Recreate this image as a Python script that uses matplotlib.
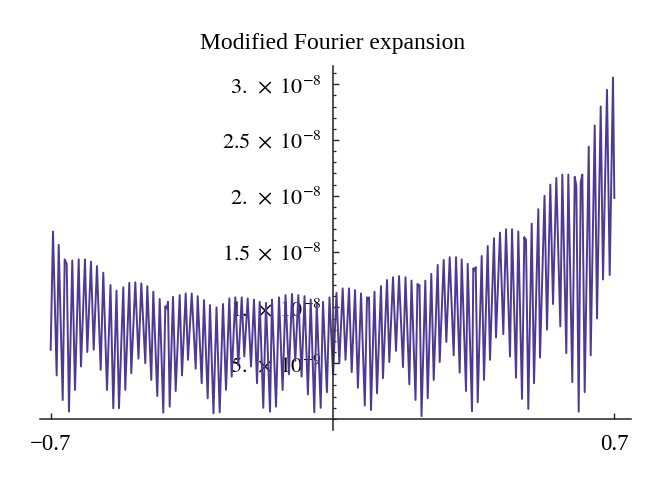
import numpy as np
import matplotlib
matplotlib.use("Agg")
import matplotlib.pyplot as plt
from matplotlib.ticker import FixedLocator, FixedFormatter, MultipleLocator

plt.rcParams['font.family'] = ['Liberation Serif', 'DejaVu Serif']
plt.rcParams['mathtext.fontset'] = 'stix'

# vertices of the plotted curve (y in units of 1e-9)
x = [-0.7000, -0.6942, -0.6851, -0.6801, -0.6701, -0.6652, -0.6602, -0.6545, -0.6463, -0.6396,
     -0.6304, -0.6247, -0.6148, -0.6090, -0.5999, -0.5931, -0.5850, -0.5758, -0.5693, -0.5601,
     -0.5514, -0.5445, -0.5365, -0.5303, -0.5196, -0.5147, -0.5047, -0.4998, -0.4898, -0.4819,
     -0.4749, -0.4650, -0.4600, -0.4501, -0.4451, -0.4352, -0.4292, -0.4203, -0.4153, -0.4118,
     -0.4086, -0.4044, -0.3962, -0.3895, -0.3795, -0.3738, -0.3646, -0.3589, -0.3497, -0.3398,
     -0.3348, -0.3249, -0.3192, -0.3100, -0.3043, -0.2956, -0.2881, -0.2802, -0.2720, -0.2645,
     -0.2563, -0.2504, -0.2414, -0.2340, -0.2255, -0.2191, -0.2106, -0.2024, -0.1950, -0.1875,
     -0.1808, -0.1719, -0.1652, -0.1552, -0.1503, -0.1403, -0.1329, -0.1239, -0.1167, -0.1083,
     -0.1006, -0.0924, -0.0849, -0.0768, -0.0695, -0.0611, -0.0541, -0.0452, -0.0392, -0.0293,
     -0.0236, -0.0139, -0.0075, 0.0015, 0.0099, 0.0169, 0.0253, 0.0323, 0.0410, 0.0477,
     0.0559, 0.0631, 0.0708, 0.0802, 0.0857, 0.0882, 0.0907, 0.0956, 0.1043, 0.1105,
     0.1205, 0.1254, 0.1354, 0.1411, 0.1503, 0.1577, 0.1652, 0.1751, 0.1813, 0.1908,
     0.1962, 0.2062, 0.2111, 0.2136, 0.2161, 0.2211, 0.2305, 0.2365, 0.2454, 0.2514,
     0.2613, 0.2663, 0.2762, 0.2827, 0.2911, 0.3010, 0.3068, 0.3159, 0.3209, 0.3316,
     0.3358, 0.3465, 0.3497, 0.3527, 0.3557, 0.3607, 0.3706, 0.3763, 0.3855, 0.3912,
     0.4011, 0.4061, 0.4160, 0.4242, 0.4310, 0.4409, 0.4459, 0.4558, 0.4615, 0.4707,
     0.4764, 0.4786, 0.4806, 0.4863, 0.4948, 0.5005, 0.5112, 0.5154, 0.5266, 0.5328,
     0.5410, 0.5477, 0.5559, 0.5658, 0.5708, 0.5807, 0.5857, 0.5956, 0.6016, 0.6056,
     0.6115, 0.6165, 0.6205, 0.6264, 0.6364, 0.6413, 0.6513, 0.6570, 0.6662, 0.6719,
     0.6818, 0.6885, 0.6967, 0.7000]
y = [6.2, 16.8, 3.9, 15.6, 1.7, 14.3, 13.9, 0.66, 14.2, 2.6,
     14.3, 4.7, 14.3, 6.0, 14.1, 6.2, 13.7, 4.4, 13.1, 2.6,
     12.0, 0.96, 11.5, 0.96, 11.8, 2.6, 12.2, 4.1, 12.25, 5.4,
     12.15, 5.0, 11.9, 3.5, 11.4, 2.06, 10.75, 0.57, 10.1, 9.9,
     10.5, 1.1, 10.95, 2.5, 11.1, 3.9, 11.25, 5.3, 11.25, 4.5,
     11.0, 3.2, 10.65, 1.85, 10.2, 0.5, 10.0, 0.6, 10.3, 2.6,
     10.8, 3.8, 10.9, 4.8, 10.9, 5.6, 10.8, 4.7, 10.7, 3.2,
     10.5, 1.0, 10.4, 0.66, 10.7, 1.1, 10.9, 2.6, 11.1, 4.0,
     11.2, 5.2, 11.1, 3.8, 11.0, 2.2, 10.7, 0.6, 10.3, 1.0,
     10.5, 2.4, 10.9, 4.0, 11.3, 5.0, 11.7, 5.3, 11.7, 4.2,
     11.55, 2.8, 11.25, 1.2, 10.9, 10.7, 10.9, 0.8, 11.4, 2.3,
     11.9, 3.65, 12.45, 5.1, 12.7, 6.1, 12.8, 4.65, 12.7, 3.1,
     12.4, 1.7, 12.1, 11.9, 12.0, 0.25, 12.4, 1.85, 13.0, 3.5,
     13.8, 5.1, 14.25, 6.9, 14.5, 5.7, 14.5, 4.15, 14.3, 2.5,
     13.9, 0.7, 13.5, 13.3, 13.6, 1.5, 14.6, 3.5, 15.5, 5.3,
     16.2, 7.3, 16.7, 7.6, 17.0, 5.6, 17.0, 3.7, 16.8, 1.8,
     16.3, 16.0, 16.1, 0.9, 17.5, 3.2, 18.8, 5.5, 20.0, 8.0,
     21.0, 10.3, 21.6, 8.3, 21.9, 5.9, 21.9, 3.3, 21.7, 20.9,
     0.65, 21.2, 21.9, 2.4, 24.4, 5.7, 26.3, 9.0, 28.0, 12.5,
     29.5, 12.9, 30.6, 19.8]

y_ticks = [5e-9, 1e-8, 1.5e-8, 2e-8, 2.5e-8, 3e-8]
y_labels = [r'$5.\;\times\;10^{-9}$', r'$1.\;\times\;10^{-8}$', r'$1.5\;\times\;10^{-8}$',
            r'$2.\;\times\;10^{-8}$', r'$2.5\;\times\;10^{-8}$', r'$3.\;\times\;10^{-8}$']
x_ticks = [-0.7, 0.7]
x_labels = ['\u22120.7', '0.7']

fig = plt.figure(figsize=(6.6, 4.78), dpi=100)
ax = fig.add_axes([40/660, 48/478, 591/660, 364/478])

ax.plot(x, np.array(y) * 1e-9, color='#4b3b94', lw=1.4)

ax.set_xlim(-0.7265, 0.7414)
ax.set_ylim(-0.99e-9, 31.63e-9)

ax.spines['left'].set_position(('data', 0))
ax.spines['bottom'].set_position(('data', 0))
ax.spines['top'].set_visible(False)
ax.spines['right'].set_visible(False)
for s in ['left', 'bottom']:
    ax.spines[s].set_linewidth(1.1)
    ax.spines[s].set_color('#222222')

ax.yaxis.set_major_locator(FixedLocator(y_ticks))
ax.yaxis.set_major_formatter(FixedFormatter(y_labels))
ax.yaxis.set_minor_locator(MultipleLocator(1e-9))
ax.xaxis.set_major_locator(FixedLocator(x_ticks))
ax.xaxis.set_major_formatter(FixedFormatter(x_labels))

ax.tick_params(axis='y', which='major', direction='in', length=4, width=1, labelsize=16, pad=8, color='#222222')
ax.tick_params(axis='y', which='minor', direction='in', length=2.2, width=0.9, color='#222222')
ax.tick_params(axis='x', which='major', direction='in', length=4, width=1, labelsize=16.5, pad=10.5, color='#222222')

fig.text(333/660, 1 - 44/478, 'Modified Fourier expansion', ha='center', va='center', fontsize=17)

plt.savefig('out.png', dpi=100)
